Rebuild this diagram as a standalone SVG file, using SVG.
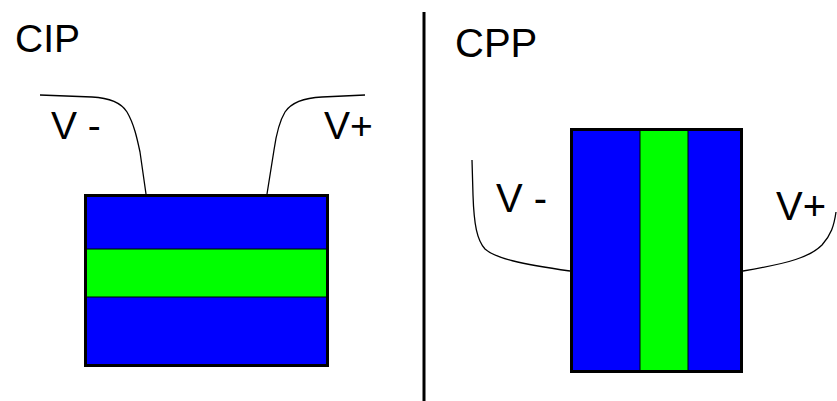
<svg xmlns="http://www.w3.org/2000/svg" width="837" height="401" viewBox="0 0 837 401">
<style>
.t{font-family:"Liberation Sans",Arial,sans-serif;fill:#000}
.w{fill:none;stroke:#000;stroke-width:1.3}
.frame{fill:none;stroke:#000;stroke-width:3}
.div{stroke:#000;stroke-width:1}
.blue{fill:#0000ff}
.green{fill:#00ff00}
</style>
<rect width="837" height="401" fill="#fff"/>
<g id="divider"><line x1="424" y1="12" x2="424" y2="401" stroke="#000" stroke-width="3"/></g>
<g id="cip-title"><text class="t" x="15" y="52" font-size="39">CIP</text></g>
<g id="cpp-title"><text class="t" x="455" y="57" font-size="40">CPP</text></g>
<g id="cip-stack">
<rect class="blue" x="85.5" y="195.5" width="242" height="170"/>
<rect class="green" x="85.5" y="249" width="242" height="48"/>
<line class="div" x1="85.5" y1="249" x2="327.5" y2="249"/>
<line class="div" x1="85.5" y1="297" x2="327.5" y2="297"/>
<rect class="frame" x="85.5" y="195.5" width="242" height="170"/>
</g>
<g id="cpp-stack">
<rect class="blue" x="571.5" y="129.5" width="170" height="242"/>
<rect class="green" x="640" y="129.5" width="48" height="242"/>
<line class="div" x1="640" y1="129.5" x2="640" y2="371.5"/>
<line class="div" x1="688" y1="129.5" x2="688" y2="371.5"/>
<rect class="frame" x="571.5" y="129.5" width="170" height="242"/>
</g>
<g id="cip-vminus"><text class="t" x="51" y="139" font-size="39">V -</text></g>
<g id="cip-vplus"><text class="t" x="324" y="139" font-size="39">V+</text></g>
<g id="cpp-vminus"><text class="t" x="496" y="212" font-size="40">V -</text></g>
<g id="cpp-vplus"><text class="t" x="776" y="220" font-size="40">V+</text></g>
<g id="connectors">
<path class="w" d="M40,95 L92,97 C112,98 122,104 127,112 C134,124 137,138 140,152 L146,194"/>
<path class="w" d="M365,95 L322,97 C302,98 291,103 285,112 C279,122 276,136 274,150 L267,194"/>
<path class="w" d="M472,160 L473,195 C474,225 477,240 485,249 C495,258 520,264 570,271"/>
<path class="w" d="M743,271 C790,263 810,257 822,245 C831,235 834,226 836,212"/>
</g>
</svg>
